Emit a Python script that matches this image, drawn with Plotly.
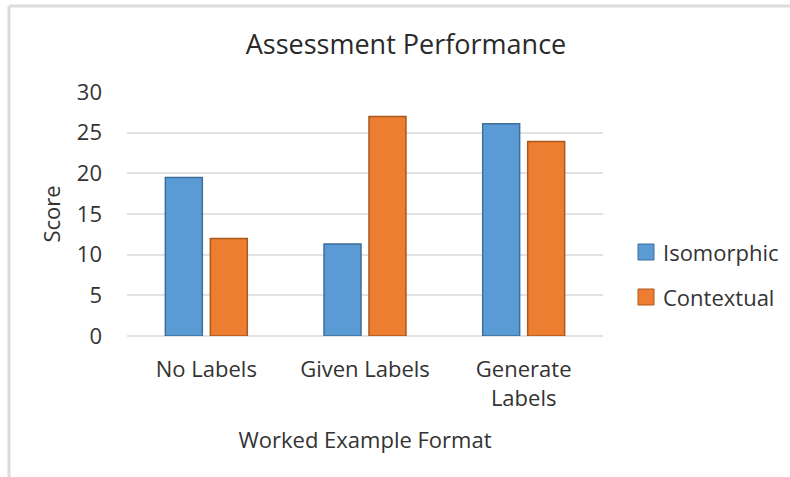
import plotly.graph_objects as go

# Scores by worked-example format
categories = ["No Labels", "Given Labels", "Generate<br>Labels"]
isomorphic = [19.5, 11.3, 26.1]
contextual = [12.0, 27.0, 23.9]
y_ticks = [0, 5, 10, 15, 20, 25, 30]

series = [
    ("Isomorphic", isomorphic, "#5B9BD5", "#3F6E98"),
    ("Contextual", contextual, "#ED7D31", "#A9581F"),
]

FONT = "Open Sans"
TEXT = "#333333"
W, H = 790, 477
L, R, T, B = 127, 187, 92, 141

pw = W - L - R
ph = H - T - B


def px_x(x):
    return (x - L) / pw


def px_y(y):
    return (H - B - y) / ph


fig = go.Figure()
for name, vals, fill, edge in series:
    fig.add_trace(go.Bar(
        x=categories, y=vals, name=name, showlegend=False,
        marker=dict(color=fill, line=dict(color=edge, width=1.5)),
    ))

# legend drawn at the right of the plot: swatch + label per series
legend_rows = [252, 297]
for (name, _, fill, edge), cy in zip(series, legend_rows):
    fig.add_shape(type="rect", xref="paper", yref="paper",
                  x0=px_x(638), x1=px_x(654), y0=px_y(cy + 8), y1=px_y(cy - 8),
                  fillcolor=fill, line=dict(color=edge, width=1))
    fig.add_annotation(xref="paper", yref="paper", x=px_x(661), y=px_y(cy),
                       xanchor="left", yanchor="middle", showarrow=False,
                       text=name, font=dict(size=22, color=TEXT))

# outer chart frame (top and left edges visible)
fig.add_shape(type="line", xref="paper", yref="paper",
              x0=px_x(9), x1=px_x(800), y0=px_y(6), y1=px_y(6),
              line=dict(color="#dcdcdc", width=3))
fig.add_shape(type="line", xref="paper", yref="paper",
              x0=px_x(9), x1=px_x(9), y0=px_y(6), y1=px_y(490),
              line=dict(color="#dcdcdc", width=3))

fig.update_layout(
    width=W, height=H,
    margin=dict(l=L, r=R, t=T, b=B, pad=0),
    paper_bgcolor="white", plot_bgcolor="white",
    font=dict(family=FONT, size=22, color=TEXT),
    barmode="group", bargap=0.433, bargroupgap=0.178,
    showlegend=False,
    title=dict(text="Assessment Performance", font=dict(size=27, color="#2a2a2a"),
               xref="container", x=406 / W, xanchor="center",
               yref="container", y=1 - 45 / H, yanchor="middle"),
    xaxis=dict(showgrid=False, showline=False, zeroline=False,
               tickfont=dict(size=22), ticklabelstandoff=18,
               title=dict(text="Worked Example Format", standoff=22,
                          font=dict(size=22))),
    yaxis=dict(range=[0, 30], tickvals=y_ticks, showgrid=True,
               gridcolor="#e2e2e2", gridwidth=2, zeroline=True,
               zerolinecolor="#e2e2e2", zerolinewidth=2, showline=False,
               tickfont=dict(size=22), ticklabelstandoff=24,
               title=dict(text="Score", standoff=10, font=dict(size=22))),
)

fig.write_html("out.html")
